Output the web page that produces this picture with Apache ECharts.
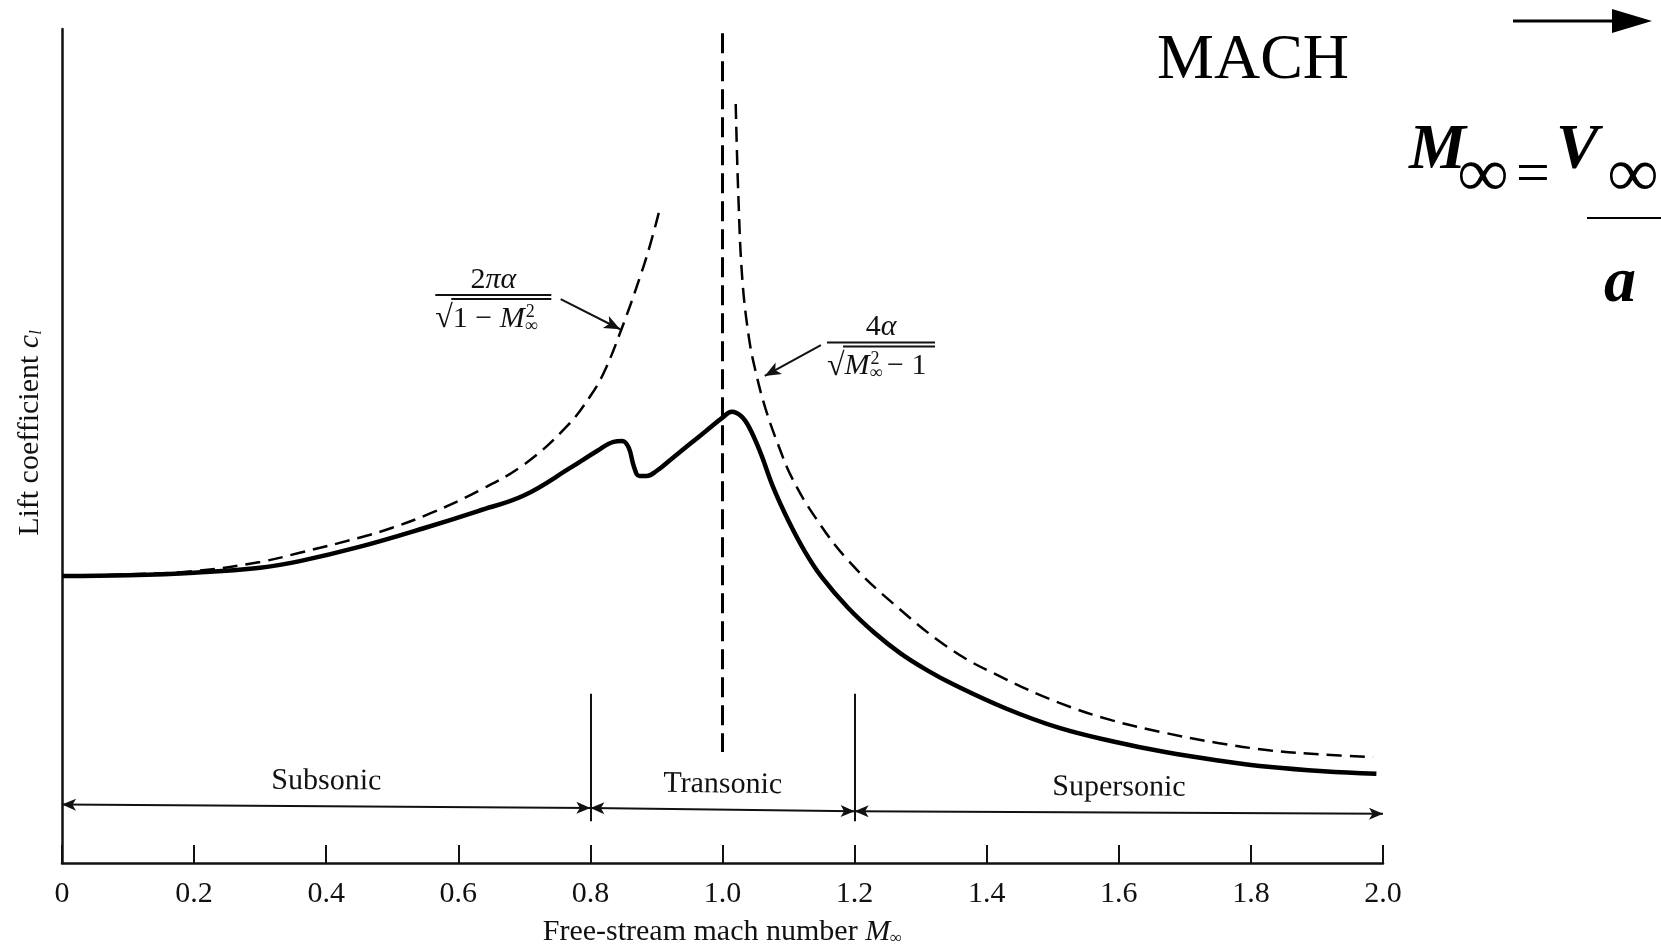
<!DOCTYPE html>
<html>
<head>
<meta charset="utf-8">
<title>Lift coefficient vs free-stream Mach number</title>
<script src="https://cdn.jsdelivr.net/npm/echarts@6/dist/echarts.min.js"></script>
<style>
  html, body { margin: 0; padding: 0; background: #fff; }
  #chart { width: 1661px; height: 952px; }
</style>
</head>
<body>
<div id="chart"></div>
<script>
// x axis ticks (free-stream Mach number)
const machTicks = [0, 0.2, 0.4, 0.6, 0.8, 1.0, 1.2, 1.4, 1.6, 1.8, 2.0];

// solid curve: actual lift coefficient (arbitrary units, 0 = x axis, 100 = top of y axis)
const measuredMach = [0, 0.1, 0.2, 0.3, 0.36, 0.45, 0.55, 0.63, 0.7, 0.77, 0.81, 0.835, 0.848, 0.858,
  0.866, 0.874, 0.885, 0.9, 0.925, 0.95, 0.975, 1.0, 1.014, 1.028, 1.04, 1.057, 1.077, 1.1, 1.125,
  1.15, 1.19, 1.23, 1.27, 1.31, 1.35, 1.43, 1.51, 1.59, 1.67, 1.75, 1.83, 1.91, 1.99];
const measuredCl = [34.4, 34.5, 34.8, 35.4, 36.2, 37.9, 40.2, 42.2, 44.1, 47.4, 49.4, 50.5, 50.6, 49.8,
  47.5, 46.4, 46.4, 47.0, 48.6, 50.2, 51.8, 53.4, 54.1, 53.6, 52.3, 49.3, 45.0, 41.0, 37.3,
  34.3, 30.6, 27.6, 25.1, 23.1, 21.4, 18.5, 16.2, 14.6, 13.3, 12.3, 11.5, 11.0, 10.7];

// dashed curve: 2πα / sqrt(1 - M²)
const subsonicMach = [0, 0.1, 0.2, 0.3, 0.36, 0.45, 0.5, 0.56, 0.63, 0.7, 0.766, 0.8, 0.821, 0.847, 0.874, 0.89, 0.904];
const subsonicCl = [34.4, 34.6, 35.0, 36.1, 37.2, 39.0, 40.2, 42.0, 44.6, 47.8, 52.5, 56.0, 58.9, 64.0, 70.0, 74.0, 78.1];

// dashed curve: 4α / sqrt(M² - 1)
const supersonicMach = [1.02, 1.024, 1.03, 1.04, 1.05, 1.065, 1.085, 1.105, 1.14, 1.19, 1.26, 1.35, 1.43, 1.51, 1.59, 1.67, 1.75, 1.83, 1.91, 1.985];
const supersonicCl = [91.0, 80.0, 70.0, 63.0, 59.0, 54.5, 50.0, 46.2, 41.5, 36.3, 31.0, 25.4, 22.0, 19.2, 17.1, 15.6, 14.4, 13.5, 13.0, 12.7];

// sonic line M = 1
const sonicMach = [1.0, 1.0];
const sonicCl = [99.5, 13.3];

// flow regimes
const regimeNames = ["Subsonic", "Transonic", "Supersonic"];
const regimeFrom = [0, 0.8, 1.2];
const regimeTo = [0.8, 1.2, 2.0];
const regimeArrowFrom = [7.0, 6.6, 6.2];
const regimeArrowTo = [6.6, 6.2, 5.9];
const regimeBoundary = [0.8, 1.2];
const boundaryTop = 20.3;
const boundaryBottom = 5.0;

const serif = "'Liberation Serif', 'DejaVu Serif', serif";

function pairs(xs, ys) {
  return xs.map((x, i) => [x, ys[i]]);
}

let chart = echarts.init(document.getElementById("chart"));

let regimeLines = regimeNames.map((name, i) => [
  { coord: [regimeFrom[i], regimeArrowFrom[i]], label: { formatter: name } },
  { coord: [regimeTo[i], regimeArrowTo[i]] }
]);
let boundaryLines = regimeBoundary.map(m => [
  { coord: [m, boundaryTop], symbol: "none" },
  { coord: [m, boundaryBottom], symbol: "none" }
]);

let option = {
  animation: false,
  backgroundColor: "#fff",
  grid: { left: 62, right: 278, top: 29, bottom: 86 },
  xAxis: {
    type: "value",
    min: 0,
    max: 2,
    interval: 0.2,
    name: "Free-stream mach number {i|M}{s|∞}",
    nameLocation: "middle",
    nameGap: 54,
    nameTextStyle: {
      fontFamily: serif, fontSize: 30, color: "#111",
      rich: {
        i: { fontFamily: serif, fontSize: 30, fontStyle: "italic", color: "#111" },
        s: { fontFamily: serif, fontSize: 17, color: "#111", verticalAlign: "bottom", padding: [10, 0, 0, 0] }
      }
    },
    axisLine: { lineStyle: { color: "#111", width: 2.5 } },
    axisTick: { inside: true, length: 18, lineStyle: { color: "#111", width: 2 } },
    axisLabel: {
      fontFamily: serif, fontSize: 30, color: "#111", margin: 16,
      formatter: v => {
        let t = machTicks.find(m => Math.abs(m - v) < 1e-6);
        return t === 0 ? "0" : t.toFixed(1);
      }
    },
    splitLine: { show: false }
  },
  yAxis: {
    type: "value",
    min: 0,
    max: 100,
    name: "Lift coefficient {i|c}{s|l}",
    nameLocation: "middle",
    nameGap: 17,
    nameTextStyle: {
      fontFamily: serif, fontSize: 30, color: "#111",
      padding: [0, 0, 0, 26],
      rich: {
        i: { fontFamily: serif, fontSize: 30, fontStyle: "italic", color: "#111" },
        s: { fontFamily: serif, fontSize: 17, fontStyle: "italic", color: "#111", verticalAlign: "bottom", padding: [10, 0, 0, 0] }
      }
    },
    axisLine: { show: true, lineStyle: { color: "#111", width: 2.5 } },
    axisTick: { show: false },
    axisLabel: { show: false },
    splitLine: { show: false }
  },
  series: [
    {
      name: "measured",
      type: "line",
      data: pairs(measuredMach, measuredCl),
      smooth: 0.4,
      showSymbol: false,
      lineStyle: { color: "#000", width: 4.5 },
      markLine: {
        silent: true,
        symbol: ["arrow", "arrow"],
        symbolSize: [9, 14],
        lineStyle: { color: "#111", width: 2, type: "solid" },
        label: {
          show: true,
          position: "insideMiddleTop",
          distance: 10,
          fontFamily: serif,
          fontSize: 30,
          color: "#111"
        },
        data: regimeLines.concat(boundaryLines)
      }
    },
    {
      name: "subsonic theory",
      type: "line",
      data: pairs(subsonicMach, subsonicCl),
      smooth: 0.4,
      showSymbol: false,
      lineStyle: { color: "#000", width: 2.5, type: [15, 8] },
      markLine: {
        silent: true,
        symbol: ["none", "arrow"],
        symbolSize: [10, 16],
        lineStyle: { color: "#111", width: 2, type: "solid" },
        label: { show: false },
        data: [[{ coord: [0.755, 67.6] }, { coord: [0.845, 64.0] }]]
      }
    },
    {
      name: "supersonic theory",
      type: "line",
      data: pairs(supersonicMach, supersonicCl),
      smooth: 0.4,
      showSymbol: false,
      lineStyle: { color: "#000", width: 2.5, type: [15, 8] },
      markLine: {
        silent: true,
        symbol: ["none", "arrow"],
        symbolSize: [10, 16],
        lineStyle: { color: "#111", width: 2, type: "solid" },
        label: { show: false },
        data: [[{ coord: [1.149, 62.1] }, { coord: [1.064, 58.4] }]]
      }
    },
    {
      name: "sonic",
      type: "line",
      data: pairs(sonicMach, sonicCl),
      showSymbol: false,
      lineStyle: { color: "#000", width: 3, type: [20, 8] }
    }
  ]
};

chart.setOption(option);

// formula labels placed at data positions
function fraction(center, num, den, half, vincLeft) {
  let p = chart.convertToPixel({ gridIndex: 0 }, center);
  let txt = { fill: "#111", fontFamily: serif, fontSize: 30 };
  let rich = {
    n: { fontFamily: serif, fontSize: 30, color: "#111" },
    i: { fontFamily: serif, fontSize: 30, fontStyle: "italic", color: "#111" },
    r: { fontFamily: serif, fontSize: 32, color: "#111" },
    sb: { fontFamily: serif, fontSize: 18, color: "#111", verticalAlign: "bottom", width: 1 },
    sp: { fontFamily: serif, fontSize: 18, color: "#111", verticalAlign: "top" }
  };
  return {
    type: "group",
    x: p[0],
    y: p[1],
    silent: true,
    children: [
      { type: "text", style: Object.assign({}, txt, { text: num, rich: rich, x: 0, y: -15, align: "center", verticalAlign: "middle" }) },
      { type: "line", shape: { x1: -half, y1: 0, x2: half, y2: 0 }, style: { stroke: "#111", lineWidth: 2 } },
      { type: "line", shape: { x1: vincLeft, y1: 4, x2: half, y2: 4 }, style: { stroke: "#111", lineWidth: 2 } },
      { type: "text", style: Object.assign({}, txt, { text: den, rich: rich, x: -half, y: 24, align: "left", verticalAlign: "middle" }) }
    ]
  };
}

let deco = { fill: "#000", fontFamily: serif };
chart.setOption({
  graphic: [
    fraction([0.653, 68.1], "{n|2}{i|πα}", "{r|√}{n|1 − }{i|M}{sb|∞}{sp|2}", 58, -42),
    fraction([1.24, 62.4], "{n|4}{i|α}", "{r|√}{i|M}{sb|∞}{sp|2}{n| − 1}", 54, -38),
    { type: "text", style: Object.assign({}, deco, { text: "MACH", x: 1157, y: 61, fontSize: 64, verticalAlign: "middle" }) },
    { type: "line", shape: { x1: 1513, y1: 21, x2: 1616, y2: 21 }, style: { stroke: "#000", lineWidth: 3 } },
    { type: "polygon", shape: { points: [[1612, 9], [1652, 21], [1612, 33]] }, style: { fill: "#000" } },
    { type: "text", style: Object.assign({}, deco, { text: "M", x: 1409, y: 151, fontSize: 64, fontWeight: "bold", fontStyle: "italic", verticalAlign: "middle" }) },
    { type: "text", style: Object.assign({}, deco, { text: "∞", x: 1458, y: 178, fontSize: 70, fontStyle: "italic", verticalAlign: "middle" }) },
    { type: "text", style: Object.assign({}, deco, { text: "=", x: 1516, y: 176, fontSize: 60, verticalAlign: "middle" }) },
    { type: "text", style: Object.assign({}, deco, { text: "V", x: 1556, y: 151, fontSize: 64, fontWeight: "bold", fontStyle: "italic", verticalAlign: "middle" }) },
    { type: "text", style: Object.assign({}, deco, { text: "∞", x: 1608, y: 178, fontSize: 70, fontStyle: "italic", verticalAlign: "middle" }) },
    { type: "line", shape: { x1: 1587, y1: 218, x2: 1661, y2: 218 }, style: { stroke: "#000", lineWidth: 2 } },
    { type: "text", style: Object.assign({}, deco, { text: "a", x: 1604, y: 284, fontSize: 64, fontWeight: "bold", fontStyle: "italic", verticalAlign: "middle" }) }
  ]
});
</script>
</body>
</html>
